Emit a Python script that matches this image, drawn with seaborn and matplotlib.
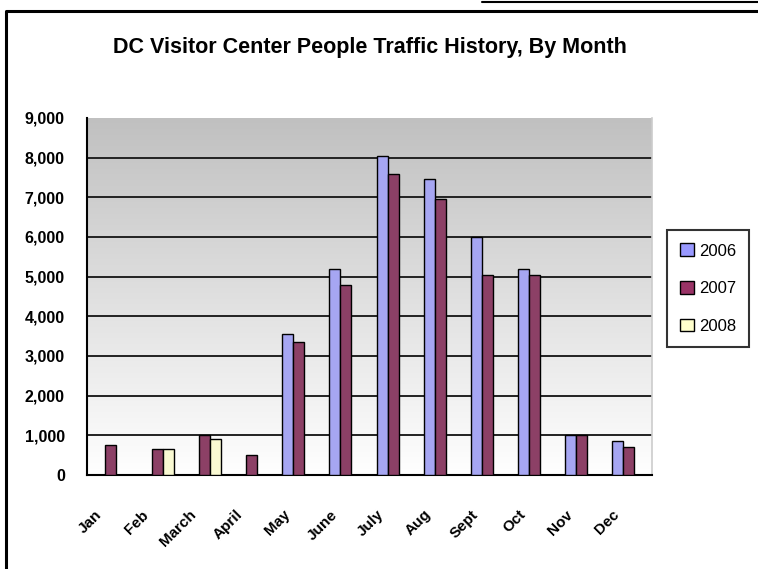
import numpy as np
import pandas as pd
import matplotlib
matplotlib.use("Agg")
import matplotlib.pyplot as plt
from matplotlib.ticker import FuncFormatter, FixedLocator
from matplotlib.transforms import ScaledTranslation
from matplotlib.lines import Line2D
from matplotlib.patches import Rectangle
import seaborn as sns

# Data
months = ['Jan', 'Feb', 'March', 'April', 'May', 'June', 'July', 'Aug', 'Sept', 'Oct', 'Nov', 'Dec']
years = ['2006', '2007', '2008']
v2006 = [None, None, None, None, 3550, 5200, 8050, 7450, 6000, 5200, 1000, 850]
v2007 = [750, 650, 1000, 500, 3350, 4800, 7600, 6950, 5050, 5050, 1000, 700]
v2008 = [None, 650, 900, None, None, None, None, None, None, None, None, None]
colors = ['#9999FF', '#993366', '#FFFFCC']

rows = []
for yr, vals in zip(years, [v2006, v2007, v2008]):
    for m, v in zip(months, vals):
        rows.append({'Month': m, 'Year': yr, 'Visitors': v})
df = pd.DataFrame(rows).dropna()

sns.set_style('white')
plt.rcParams['font.family'] = ['Liberation Sans', 'DejaVu Sans']
plt.rcParams['text.color'] = 'black'
plt.rcParams['xtick.color'] = 'black'
plt.rcParams['ytick.color'] = 'black'
plt.rcParams['axes.titlecolor'] = 'black'

fig = plt.figure(figsize=(7.58, 5.69), dpi=100)
ax = fig.add_axes([87 / 758, 1 - 475 / 569, 565 / 758, 357 / 569])

# gray-to-white gradient background
grad = np.linspace(1, 0, 256).reshape(-1, 1)
cmap = matplotlib.colors.LinearSegmentedColormap.from_list('g', ['#FFFFFF', '#C0C0C0'])
ax.imshow(grad, extent=[-0.5, 11.5, 0, 9000], aspect='auto', cmap=cmap, zorder=0)

sns.barplot(data=df, x='Month', y='Visitors', hue='Year', order=months, hue_order=years,
            palette=colors, width=0.7, edgecolor='black', linewidth=1.0, ax=ax, zorder=3,
            errorbar=None)

ax.set_xlim(-0.5, 11.5)
ax.set_ylim(0, 9000)
ax.set_yticks(range(0, 9001, 1000))
ax.yaxis.set_major_formatter(FuncFormatter(lambda v, p: f'{int(v):,}'))
for g in range(1000, 9000, 1000):
    ax.axhline(g, color='#222222', lw=1.4, zorder=1)

ax.set_xlabel('')
ax.set_ylabel('')
ax.xaxis.set_minor_locator(FixedLocator(np.arange(-0.5, 12, 1)))
ax.tick_params(axis='x', which='major', length=0, pad=27, labelsize=11, labelcolor='black')
ax.tick_params(axis='x', which='minor', length=6, width=1.2, color='black', direction='out')
ax.tick_params(axis='y', length=5, width=1.2, color='black', direction='out', pad=11,
               labelsize=11.5, labelcolor='black')
shift = ScaledTranslation(-11 / 100, 0, fig.dpi_scale_trans)
for lbl in ax.get_xticklabels():
    lbl.set_rotation(45)
    lbl.set_ha('right')
    lbl.set_va('center')
    lbl.set_rotation_mode('anchor')
    lbl.set_fontweight('bold')
    lbl.set_transform(lbl.get_transform() + shift)
for lbl in ax.get_yticklabels():
    lbl.set_fontweight('bold')

for s in ['left', 'bottom']:
    ax.spines[s].set_color('black')
    ax.spines[s].set_linewidth(1.5)
ax.spines['top'].set_visible(False)
ax.spines['right'].set_color('#CCCCCC')
ax.spines['right'].set_linewidth(1.2)

ax.set_title('DC Visitor Center People Traffic History, By Month', fontsize=15.5,
             fontweight='bold', pad=47, color='black')

ax.legend_.remove()
handles = [Rectangle((0, 0), 1, 1, facecolor=c, edgecolor='black', lw=1) for c in colors]
leg = fig.legend(handles, years, loc='upper left', bbox_to_anchor=(667 / 758, 1 - 230 / 569),
                 frameon=True, fancybox=False, edgecolor='black', borderaxespad=0,
                 handlelength=0.8, handleheight=0.8, handletextpad=0.3, labelspacing=1.35,
                 borderpad=0.8, prop={'size': 12})
leg.get_frame().set_linewidth(1.5)

# chart border and top line
fig.add_artist(Line2D([6 / 758, 6 / 758, 1.0], [0.0, 1 - 11 / 569, 1 - 11 / 569],
                      transform=fig.transFigure, color='black', lw=2.2))
fig.add_artist(Line2D([482 / 758, 1.0], [1 - 1.5 / 569, 1 - 1.5 / 569],
                      transform=fig.transFigure, color='black', lw=1.5))

fig.savefig('out.png', dpi=100)
